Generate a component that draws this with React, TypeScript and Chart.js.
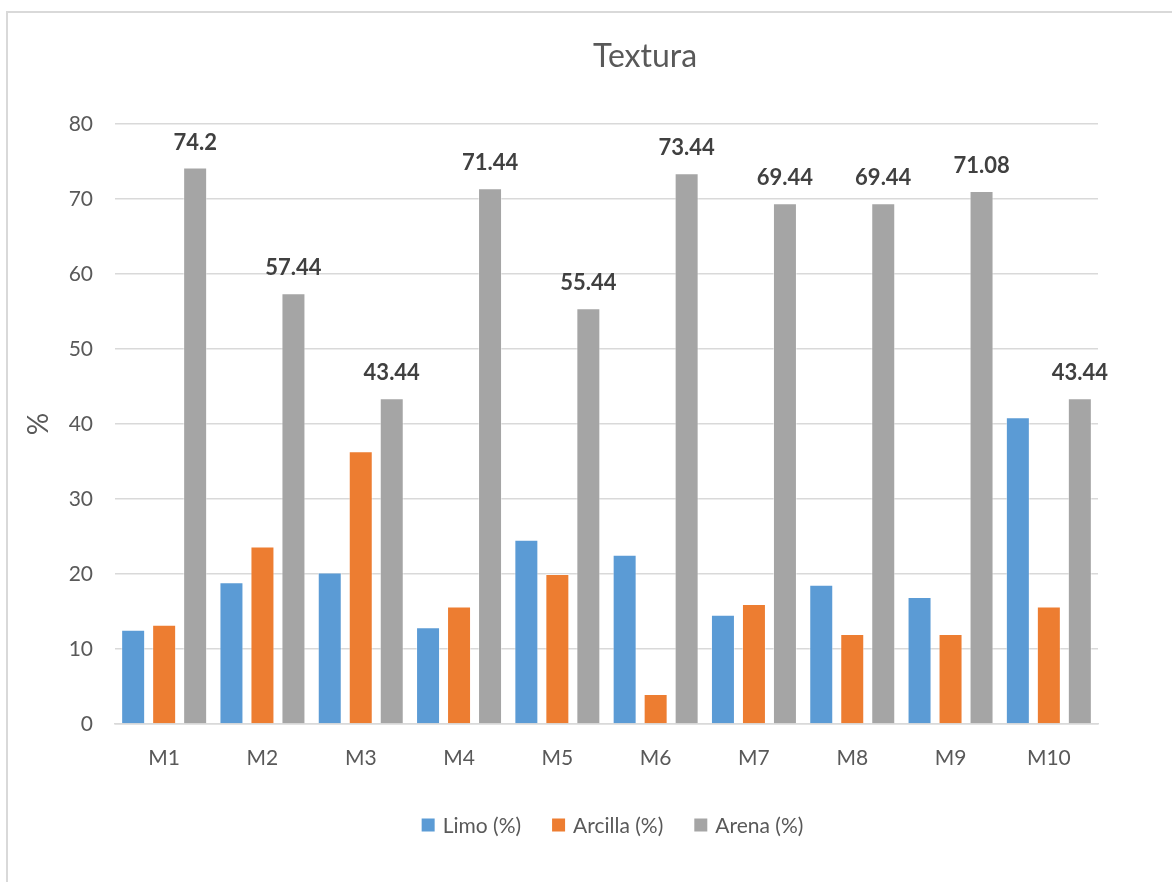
import React, { useEffect, useRef } from "react";
import { Chart, registerables } from "chart.js";

Chart.register(...registerables);

const categories = ["M1", "M2", "M3", "M4", "M5", "M6", "M7", "M8", "M9", "M10"];
const limo = [12.56, 18.9, 20.2, 12.9, 24.56, 22.56, 14.56, 18.56, 16.92, 40.9];
const arcilla = [13.24, 23.66, 36.36, 15.66, 20.0, 4.0, 16.0, 12.0, 12.0, 15.66];
const arena = [74.2, 57.44, 43.44, 71.44, 55.44, 73.44, 69.44, 69.44, 71.08, 43.44];
const yTicks = [0, 10, 20, 30, 40, 50, 60, 70, 80];

const seriesNames = ["Limo (%)", "Arcilla (%)", "Arena (%)"];
const seriesColors = ["#5b9bd5", "#ed7d31", "#a5a5a5"];
const titleText = "Textura";

const FONT = "Lato, 'Open Sans', sans-serif";
const TEXT = "#595959";

// Title, data labels on the Arena bars and the bottom legend
const decorations = {
  id: "decorations",
  afterDraw(chart: any) {
    const ctx = chart.ctx;
    const area = chart.chartArea;
    ctx.save();

    // title
    ctx.font = `32px ${FONT}`;
    ctx.fillStyle = TEXT;
    ctx.textAlign = "center";
    ctx.textBaseline = "middle";
    ctx.fillText(titleText, 645, 57);

    // values above the Arena bars
    const meta = chart.getDatasetMeta(2);
    ctx.font = `bold 22px ${FONT}`;
    ctx.fillStyle = "#404040";
    meta.data.forEach((bar: any, i: number) => {
      ctx.fillText(String(arena[i]), bar.x, bar.y - 25);
    });

    // legend
    const box = 13;
    const gapText = 8;
    const gapItem = 31;
    ctx.font = `21px ${FONT}`;
    const widths = chart.data.datasets.map((d: any) => ctx.measureText(d.label).width);
    let total = 0;
    widths.forEach((w: number, i: number) => {
      total += box + gapText + w + (i < widths.length - 1 ? gapItem : 0);
    });
    let x = (area.left + area.right) / 2 - total / 2 + 6;
    const y = 825;
    ctx.textAlign = "left";
    chart.data.datasets.forEach((d: any, i: number) => {
      ctx.fillStyle = d.backgroundColor;
      ctx.fillRect(x, y - box / 2, box, box);
      ctx.fillStyle = TEXT;
      ctx.fillText(d.label, x + box + gapText, y + 1);
      x += box + gapText + widths[i] + gapItem;
    });

    ctx.restore();
  },
};

export default function App() {
  const ref = useRef<HTMLCanvasElement | null>(null);

  useEffect(() => {
    if (!ref.current) return;
    const border = "rgba(255,255,255,0.45)";
    const chart = new Chart(ref.current, {
      type: "bar",
      data: {
        labels: categories,
        datasets: [
          { label: seriesNames[0], data: limo, backgroundColor: seriesColors[0], borderColor: border, borderWidth: 1 },
          { label: seriesNames[1], data: arcilla, backgroundColor: seriesColors[1], borderColor: border, borderWidth: 1 },
          { label: seriesNames[2], data: arena, backgroundColor: seriesColors[2], borderColor: border, borderWidth: 1 },
        ],
      },
      options: {
        responsive: false,
        animation: false,
        layout: { padding: { left: 16, right: 74, top: 124, bottom: 98 } },
        datasets: { bar: { categoryPercentage: 0.946, barPercentage: 0.774 } },
        plugins: {
          title: { display: false },
          legend: { display: false },
          tooltip: { enabled: false },
        },
        scales: {
          x: {
            grid: { display: false, drawTicks: false },
            border: { display: true, color: "#d9d9d9", width: 1.5 },
            ticks: { color: TEXT, font: { family: FONT, size: 21 }, padding: 22 },
            afterFit(scale: any) {
              scale.height = 60;
            },
          },
          y: {
            min: 0,
            max: 80,
            afterBuildTicks(scale: any) {
              scale.ticks = yTicks.map((v) => ({ value: v }));
            },
            grid: { color: "#d9d9d9", lineWidth: 1.5, drawTicks: false },
            border: { display: false },
            ticks: { color: TEXT, font: { family: FONT, size: 21 }, padding: 22 },
            title: {
              display: true,
              text: "%",
              color: TEXT,
              font: { family: FONT, size: 28 },
              padding: { top: 6, bottom: 0 },
            },
            afterFit(scale: any) {
              scale.width = 99;
            },
          },
        },
      },
      plugins: [decorations],
    });
    return () => chart.destroy();
  }, []);

  return (
    <div style={{ position: "absolute", left: 0, top: 0, width: 1172, height: 882, overflow: "hidden", background: "#fff" }}>
      <div
        style={{
          position: "absolute",
          left: 6,
          top: 11,
          width: 1200,
          height: 900,
          border: "2px solid #d9d9d9",
          boxSizing: "border-box",
        }}
      />
      <canvas ref={ref} width={1172} height={882} style={{ position: "absolute", left: 0, top: 0 }} />
    </div>
  );
}
